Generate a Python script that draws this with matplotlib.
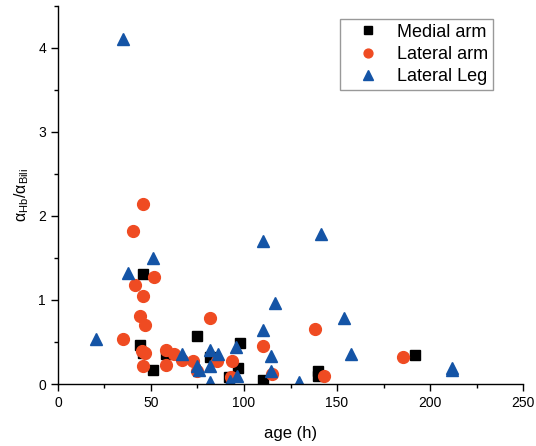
import matplotlib
matplotlib.use("Agg")
import matplotlib.pyplot as plt
from matplotlib.ticker import MultipleLocator

# DATA =================================================================================================================

medial_age = [44, 46, 46, 51, 58, 75, 82, 92, 97, 98, 110, 140, 140, 192]
medial_ratio = [0.47, 0.37, 1.31, 0.17, 0.36, 0.57, 0.32, 0.08, 0.19, 0.49, 0.05, 0.16, 0.09, 0.34]

lat_arm_age = [35, 40.5, 41.5, 44, 45, 46, 46, 47, 47, 46, 51.5, 58, 58, 62.5, 66.5, 72.5, 74.5,
               82, 85.5, 93.5, 93, 110, 115, 138, 143, 185.5]
lat_arm_ratio = [0.54, 1.82, 1.18, 0.81, 0.39, 2.14, 1.05, 0.70, 0.37, 0.21, 1.27, 0.40, 0.23, 0.36, 0.29,
                 0.27, 0.15, 0.79, 0.27, 0.27, 0.08, 0.45, 0.12, 0.65, 0.09, 0.32]

lat_leg_age = [20.5, 35, 37.5, 51, 66.5, 75, 76, 82, 82, 82, 86, 92.5, 95.5, 96, 110, 110, 114.5, 114.5,
               116.5, 129.5, 141.5, 154, 157.5, 212, 212]
lat_leg_ratio = [0.54, 4.10, 1.32, 1.50, 0.36, 0.21, 0.17, 0.41, 0.22, 0.02, 0.36, 0.04, 0.44, 0.10, 1.70,
                 0.64, 0.33, 0.16, 0.96, 0.02, 1.79, 0.79, 0.36, 0.19, 0.17]

SERIES_NAMES = ["Medial arm", "Lateral arm", "Lateral Leg"]

# STYLE ================================================================================================================

plt.rcParams["font.family"] = ["Liberation Sans", "DejaVu Sans"]
plt.rcParams["mathtext.fontset"] = "custom"
plt.rcParams["mathtext.rm"] = "Liberation Sans"
plt.rcParams["mathtext.it"] = "Liberation Sans"

ORANGE = "#EF4B22"
BLUE = "#1454A6"

# PLOT =================================================================================================================

fig = plt.figure(figsize=(5.36, 4.46), dpi=100)
ax = fig.add_axes([0.108, 0.139, 0.868, 0.848])

ax.plot(medial_age, medial_ratio, "s", color="black", markersize=7, linestyle="none",
        label=SERIES_NAMES[0])
ax.plot(lat_arm_age, lat_arm_ratio, "o", color=ORANGE, markersize=8.5, linestyle="none",
        label=SERIES_NAMES[1])
ax.plot(lat_leg_age, lat_leg_ratio, "^", color=BLUE, markersize=9, linestyle="none",
        label=SERIES_NAMES[2])

ax.set_xlim(0, 250)
ax.set_ylim(0, 4.5)
ax.xaxis.set_major_locator(MultipleLocator(50))
ax.xaxis.set_minor_locator(MultipleLocator(25))
ax.yaxis.set_major_locator(MultipleLocator(1))
ax.yaxis.set_minor_locator(MultipleLocator(0.5))
ax.tick_params(which="major", direction="out", length=5, width=1, labelsize=10)
ax.tick_params(which="minor", direction="out", length=3, width=1)

ax.spines["top"].set_visible(False)
ax.spines["right"].set_visible(False)
ax.spines["left"].set_linewidth(1)
ax.spines["bottom"].set_linewidth(1)

ax.set_xlabel("age (h)", fontsize=12, labelpad=12)
ax.set_ylabel(r"$\mathregular{\alpha_{Hb}/\alpha_{Bili}}$", fontsize=11.5, labelpad=5)

leg = ax.legend(loc="upper right", bbox_to_anchor=(0.935, 0.965), fontsize=13, frameon=True,
                fancybox=False, edgecolor="#808080", markerscale=0.75, handlelength=2.6,
                handletextpad=0.3, borderpad=0.25, labelspacing=0.3, borderaxespad=0)
leg.get_frame().set_linewidth(1)

fig.savefig("out.png", dpi=100)
